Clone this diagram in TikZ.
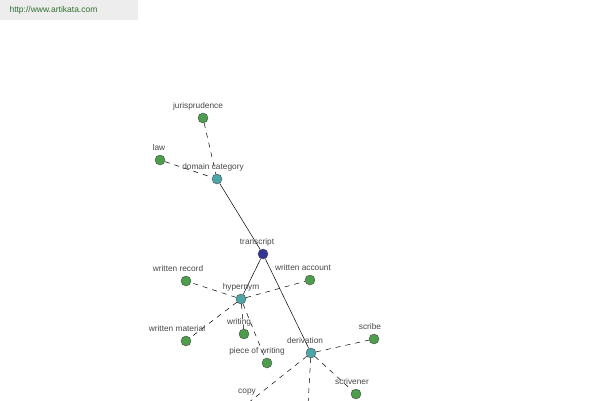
\documentclass[tikz,border=0pt]{standalone}
\usepackage{fontspec}
\setmainfont{Liberation Sans}
\begin{document}
\begin{tikzpicture}[x=1pt,y=-1pt,
  dot/.style={circle,draw=black!70,line width=0.4pt,minimum size=10pt,inner sep=0pt},
  leaf/.style={dot,fill=green!45!black!70!white},
  mid/.style={dot,fill=teal!70!white},
  root/.style={dot,fill=blue!50!black!80!white},
  lbl/.style={font=\fontsize{8.3}{9}\selectfont,text=black!72,inner sep=0pt},
  sol/.style={line width=0.5pt},
  dsh/.style={line width=0.5pt,dash pattern=on 5pt off 5pt}]
\useasboundingbox (0,0) rectangle (600,400);
\fill[black!7] (0,0) rectangle (138,20);
\node[font=\fontsize{8.5}{9}\selectfont,text=green!30!black!80,anchor=west] (url) at (6,10) {http://www.artikata.com};
% nodes
\node[leaf] (jur) at (203,118) {};
\node[leaf] (law) at (160,160) {};
\node[mid] (dom) at (217,179) {};
\node[root] (tra) at (263,254) {};
\node[leaf] (wre) at (186,281) {};
\node[leaf] (wac) at (310,280) {};
\node[mid] (hyp) at (241,299) {};
\node[leaf] (wma) at (186,341) {};
\node[leaf] (wri) at (244,334) {};
\node[leaf] (pow) at (267,363) {};
\node[mid] (der) at (311,353) {};
\node[leaf] (scr) at (374,339) {};
\node[leaf] (scv) at (356,394) {};
\coordinate (cop) at (248,403);
\coordinate (oth) at (308,405);
% edges
\draw[sol] (dom) -- (tra);
\draw[sol] (tra) -- (hyp);
\draw[sol] (tra) -- (der);
\draw[dsh] (jur) -- (dom);
\draw[dsh] (law) -- (dom);
\draw[dsh] (hyp) -- (wre);
\draw[dsh] (hyp) -- (wac);
\draw[dsh] (hyp) -- (wma);
\draw[dsh] (hyp) -- (wri);
\draw[dsh] (hyp) -- (pow);
\draw[dsh] (der) -- (scr);
\draw[dsh] (der) -- (scv);
\draw[dsh] (der) -- (cop);
\draw[dsh] (der) -- (oth);
% labels
\node[lbl] (ljur) at (198,106) {jurisprudence};
\node[lbl] (llaw) at (159,148) {law};
\node[lbl] (ldom) at (213,167) {domain category};
\node[lbl] (ltra) at (257,242) {transcript};
\node[lbl] (lwre) at (178,269) {written record};
\node[lbl] (lwac) at (303,268) {written account};
\node[lbl] (lhyp) at (241,287) {hypernym};
\node[lbl] (lwma) at (177,329) {written material};
\node[lbl] (lwri) at (239,322) {writing};
\node[lbl] (lpow) at (257,351) {piece of writing};
\node[lbl] (lder) at (305,341) {derivation};
\node[lbl] (lscr) at (370,327) {scribe};
\node[lbl] (lscv) at (352,382) {scrivener};
\node[lbl] (lcop) at (247,392) {copy};
\end{tikzpicture}
\end{document}
